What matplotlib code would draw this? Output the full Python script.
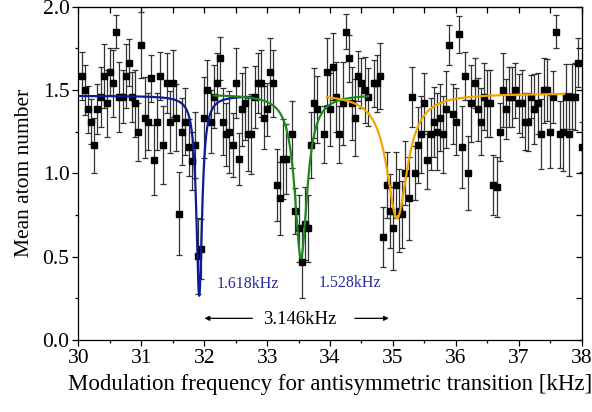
import numpy as np
import matplotlib.pyplot as plt

plt.rcParams['font.family'] = 'serif'
plt.rcParams['font.serif'] = ['Liberation Serif', 'DejaVu Serif']
plt.rcParams['mathtext.fontset'] = 'stix'

# measured points: frequency [kHz], mean atom number, error
freq = [30.05, 30.10, 30.15, 30.20, 30.25, 30.30, 30.35, 30.40, 30.45, 30.50,
        30.55, 30.60, 30.65, 30.70, 30.75, 30.80, 30.85, 30.90, 30.95, 31.00,
        31.05, 31.10, 31.15, 31.20, 31.25, 31.30, 31.35, 31.40, 31.45, 31.50,
        31.55, 31.60, 31.65, 31.70, 31.75, 31.80, 31.85, 31.90, 31.95, 32.00,
        32.05, 32.10, 32.15, 32.20, 32.25, 32.30, 32.35, 32.40, 32.45, 32.50,
        32.55, 32.60, 32.65, 32.70, 32.75, 32.80, 32.85, 32.90, 32.95, 33.00,
        33.05, 33.10, 33.15, 33.20, 33.25, 33.30, 33.40, 33.45, 33.50, 33.55,
        33.60, 33.65, 33.70, 33.75, 33.80, 33.90, 33.95, 34.00, 34.05, 34.10,
        34.15, 34.20, 34.25, 34.30, 34.35, 34.40, 34.45, 34.50, 34.55, 34.60,
        34.70, 34.75, 34.80, 34.85, 34.90, 34.95, 35.00, 35.05, 35.10, 35.15,
        35.20, 35.25, 35.30, 35.35, 35.40, 35.45, 35.50, 35.55, 35.60, 35.65,
        35.70, 35.75, 35.80, 35.85, 35.90, 35.95, 36.00, 36.05, 36.10, 36.15,
        36.20, 36.25, 36.30, 36.35, 36.40, 36.45, 36.50, 36.55, 36.60, 36.65,
        36.70, 36.75, 36.80, 36.85, 36.90, 36.95, 37.00, 37.05, 37.10, 37.15,
        37.20, 37.25, 37.30, 37.35, 37.40, 37.45, 37.50, 37.55, 37.60, 37.65,
        37.70, 37.75, 37.80, 37.85, 37.90, 37.95, 38.00]
atoms = [1.585, 1.50, 1.385, 1.31, 1.17, 1.385, 1.46, 1.585, 1.42, 1.61,
         1.54, 1.85, 1.46, 1.46, 1.585, 1.665, 1.46, 1.42, 1.25, 1.77,
         1.335, 1.31, 1.57, 1.08, 1.31, 1.585, 1.17, 1.54, 1.31, 1.54,
         1.335, 0.757, 1.25, 1.31, 1.157, 1.073, 1.17, 0.505, 0.545, 1.335,
         1.50, 1.31, 1.46, 1.54, 1.69, 1.31, 1.235, 1.25, 1.17, 1.54,
         1.085, 1.385, 1.42, 1.235, 1.235, 1.46, 1.54, 1.54, 1.335, 1.385,
         1.61, 1.54, 0.93, 0.85, 1.085, 1.085, 1.235, 0.775, 0.67, 0.467,
         0.697, 0.67, 1.17, 1.42, 1.385, 1.235, 1.61, 1.385, 1.64, 1.46,
         1.235, 1.42, 1.85, 1.69, 1.42, 1.335, 1.585, 1.54, 1.50, 1.46,
         1.54, 1.54, 1.585, 0.62, 0.93, 0.775, 0.67, 0.93, 0.775, 0.755,
         1.003, 0.85, 1.46, 1.003, 1.17, 1.235, 1.42, 1.08, 1.235, 1.31,
         1.25, 1.335, 1.235, 1.385, 1.77, 1.355, 1.31, 1.835, 1.157, 1.585,
         1.003, 1.42, 1.54, 1.385, 1.31, 1.46, 1.42, 1.42, 0.93, 0.92,
         1.25, 1.50, 1.385, 1.46, 1.46, 1.50, 1.42, 1.42, 1.31, 1.31,
         1.46, 1.385, 1.42, 1.235, 1.50, 1.50, 1.25, 1.46, 1.85, 1.235,
         1.25, 1.46, 1.235, 1.46, 1.46, 1.665, 1.157]
err = [0.145, 0.15, 0.14, 0.135, 0.165, 0.15, 0.18, 0.19, 0.2, 0.14,
       0.2, 0.1, 0.21, 0.16, 0.19, 0.14, 0.15, 0.2, 0.175, 0.2,
       0.245, 0.17, 0.14, 0.21, 0.17, 0.145, 0.235, 0.18, 0.185, 0.2,
       0.2, 0.25, 0.2, 0.2, 0.17, 0.175, 0.2, 0.23, 0.18, 0.245,
       0.18, 0.19, 0.19, 0.18, 0.13, 0.2, 0.19, 0.245, 0.19, 0.21,
       0.155, 0.22, 0.22, 0.22, 0.24, 0.185, 0.18, 0.2, 0.19, 0.16,
       0.2, 0.2, 0.215, 0.22, 0.24, 0.21, 0.2, 0.14, 0.2, 0.215,
       0.22, 0.2, 0.2, 0.21, 0.2, 0.17, 0.2, 0.22, 0.2, 0.21,
       0.17, 0.25, 0.105, 0.14, 0.22, 0.23, 0.15, 0.15, 0.2, 0.175,
       0.14, 0.17, 0.2, 0.18, 0.2, 0.22, 0.25, 0.2, 0.25, 0.2,
       0.19, 0.25, 0.18, 0.16, 0.23, 0.23, 0.185, 0.175, 0.215, 0.21,
       0.23, 0.2, 0.23, 0.23, 0.12, 0.18, 0.2, 0.11, 0.245, 0.145,
       0.22, 0.23, 0.15, 0.19, 0.2, 0.2, 0.2, 0.2, 0.18, 0.18,
       0.175, 0.22, 0.18, 0.18, 0.18, 0.165, 0.175, 0.2, 0.17, 0.175,
       0.13, 0.21, 0.185, 0.21, 0.195, 0.185, 0.22, 0.155, 0.1, 0.2,
       0.235, 0.195, 0.25, 0.195, 0.2, 0.145, 0.15]

# Lorentzian fit parameters: centre, FWHM, depth, baseline, x-range
fit_centre = [31.920, 33.538, 35.066]
fit_width = [0.11, 0.24, 0.40]
fit_depth = [1.20, 0.985, 0.75]
fit_base = [1.465, 1.475, 1.48]
fit_start = [30.0, 32.15, 33.95]
fit_stop = [32.75, 34.61, 37.72]
fit_color = ['#0f1a96', '#1e8a1e', '#f5a400']

fig = plt.figure(figsize=(5.92, 4.12), dpi=100)
ax = fig.add_axes([0.1326, 0.1748, 0.8497, 0.8089])

ax.errorbar(freq, atoms, yerr=err, fmt='s', color='black', ms=5,
            ecolor='#333333', elinewidth=0.9, capsize=2, capthick=0.9, zorder=2)

for c, w, a, b, x0, x1, col in zip(fit_centre, fit_width, fit_depth, fit_base,
                                    fit_start, fit_stop, fit_color):
    xs = np.linspace(x0, x1, 800)
    ys = b - a / (1 + ((xs - c) / (w / 2)) ** 2)
    ax.plot(xs, ys, color=col, lw=1.6, zorder=3)

ax.text(32.70, 0.335, '1.618kHz', color='#2a2a9a', fontsize=11.5,
        ha='center', va='center')
ax.text(34.32, 0.34, '1.528kHz', color='#2a2a9a', fontsize=11.5,
        ha='center', va='center')
ax.text(33.52, 0.125, '3.146kHz', color='black', fontsize=13.5,
        ha='center', va='center')
ax.annotate('', xy=(31.96, 0.13), xytext=(32.81, 0.13),
            arrowprops=dict(arrowstyle='-|>', color='black', lw=0.9,
                            mutation_scale=7))
ax.annotate('', xy=(34.98, 0.13), xytext=(34.35, 0.13),
            arrowprops=dict(arrowstyle='-|>', color='black', lw=0.9,
                            mutation_scale=7))

ax.set_xlim(30, 38)
ax.set_ylim(0, 2.0)
ax.set_xticks(np.arange(30, 38.1, 1))
ax.set_xticks(np.arange(30, 38.1, 0.5), minor=True)
ax.set_yticks(np.arange(0, 2.01, 0.5))
ax.set_yticks(np.arange(0, 2.01, 0.25), minor=True)
ax.set_yticklabels(['%.1f' % v for v in np.arange(0, 2.01, 0.5)])
ax.tick_params(which='major', direction='out', length=4.5, width=0.9,
               labelsize=15.5, pad=2)
ax.tick_params(which='minor', direction='out', length=2.5, width=0.9)

# mirrored ticks on top and right, pointing inwards
secx = ax.secondary_xaxis('top')
secx.set_xticks(np.arange(30, 38.1, 0.5))
secx.tick_params(direction='in', length=4, width=0.9, labeltop=False)
secy = ax.secondary_yaxis('right')
secy.set_yticks(np.arange(0, 2.01, 0.25))
secy.tick_params(direction='in', length=4, width=0.9, labelright=False)

for s in ax.spines.values():
    s.set_linewidth(0.9)

ax.set_xlabel('Modulation frequency for antisymmetric transition [kHz]',
              fontsize=16.5, labelpad=4)
ax.set_ylabel('Mean atom number', fontsize=15.5, labelpad=6)

fig.savefig('out.png', dpi=100)
